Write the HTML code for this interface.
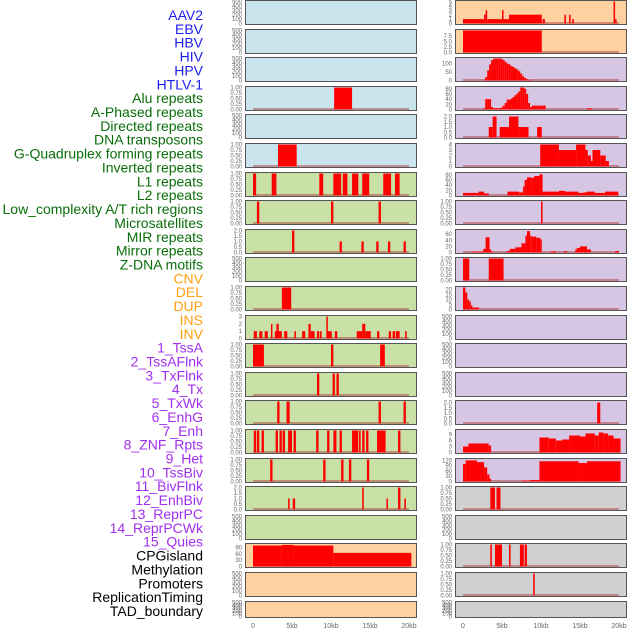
<!DOCTYPE html>
<html><head><meta charset="utf-8"><style>
body{margin:0;background:#fff;width:630px;height:630px;overflow:hidden}
svg{display:block}
</style></head><body>
<svg id="chart" width="630" height="630" xmlns="http://www.w3.org/2000/svg"></svg>
<script>
// ---------- labels ----------
const trackLabels = ["AAV2","EBV","HBV","HIV","HPV","HTLV-1","Alu repeats","A-Phased repeats","Directed repeats","DNA transposons","G-Quadruplex forming repeats","Inverted repeats","L1 repeats","L2 repeats","Low_complexity A/T rich regions","Microsatellites","MIR repeats","Mirror repeats","Z-DNA motifs","CNV","DEL","DUP","INS","INV","1_TssA","2_TssAFlnk","3_TxFlnk","4_Tx","5_TxWk","6_EnhG","7_Enh","8_ZNF_Rpts","9_Het","10_TssBiv","11_BivFlnk","12_EnhBiv","13_ReprPC","14_ReprPCWk","15_Quies","CPGisland","Methylation","Promoters","ReplicationTiming","TAD_boundary"];
const labelGroupSizes = [6,13,5,15,5];
const labelColors = ["#1c1cf0","#0a6e0a","#ffa010","#a030ee","#000000"];
const xTickValues = [0,5,10,15,20];
const xTickLabels = ["0","5kb","10kb","15kb","20kb"];

// ---------- tick sets ----------
const tEmpty = [0,100,200,300,400,500];
const tEmptyL = ["0","100","200","300","400","500"];
const tUnit = [0,0.25,0.5,0.75,1];
const tUnitL = ["0.00","0.25","0.50","0.75","1.00"];
const tTwo = [0,0.5,1,1.5,2];
const tTwoL = ["0.0","0.5","1.0","1.5","2.0"];

// ---------- left column data [startKb, endKb, value] ----------
const L_alu = [[10.4,12.7,1]];
const L_gquad = [[3.2,5.6,1]];
const L_l1 = [[0,0.4,1],[2.4,3.0,1],[8.5,9.0,1],[10.3,11.3,1],[11.5,12.1,1],[12.7,13.5,1],[14.0,14.9,1],[16.7,17.7,1],[18.2,18.8,1]];
const L_lowc = [[0.5,0.8,1],[10.0,10.3,1],[16.1,16.4,1]];
const L_mir = [[5.0,5.3,2],[11.1,11.4,1],[13.9,14.2,1],[15.8,16.1,1],[17.3,17.6,1],[19.3,19.6,1]];
const L_zdna = [[3.7,4.9,1]];
const L_ins = [[0.1,0.5,1],[0.8,1.2,1],[1.5,1.9,1],[2.3,2.4,2],[2.8,3.7,1],[3.0,3.3,2],[4.0,4.4,1],[5.3,5.5,1],[6.3,6.7,1],[7.1,7.4,2],[7.4,7.9,1],[8.2,8.5,1],[8.6,8.8,1],[9.4,9.5,3],[9.5,10.1,1],[10.5,10.8,1],[13.3,14.0,1],[14.0,14.4,2],[14.4,15.1,1],[15.9,16.2,1],[17.4,17.7,1],[17.9,18.2,1],[18.3,18.8,1],[19.5,19.7,1]];
const L_tssa = [[0,1.4,1],[10.0,10.3,1],[16.3,16.9,1]];
const L_tssaf = [[8.2,8.5,1],[10.2,10.5,1],[10.7,11.0,1]];
const L_txf = [[3.1,3.4,1],[4.3,4.7,1],[16.1,16.4,1],[19.3,19.6,1]];
const L_tx = [[0.1,0.4,1],[0.5,0.8,1],[1.1,1.4,1],[2.9,3.2,1],[3.4,3.7,1],[3.8,4.1,1],[4.5,5.0,1],[5.2,5.5,1],[8.1,8.4,1],[9.5,9.8,1],[10.3,10.7,1],[11.1,11.4,1],[12.7,13.5,1],[13.6,13.8,1],[14.0,14.3,1],[14.5,14.8,1],[15.9,17.0,1],[18.6,18.9,1]];
const L_txwk = [[2.2,2.5,1],[9.0,9.3,1],[11.3,11.6,1],[12.3,12.6,1],[14.6,14.9,1]];
const L_enhg = [[4.5,4.7,1],[5.1,5.4,1],[14.0,14.2,2],[17.1,17.3,1],[18.6,18.9,2],[19.4,19.6,1]];
const L_cpg = [[0,3.7,100],[3.7,5.2,103],[5.2,10.3,100],[10.3,20.3,65]];

// ---------- right column data ----------
const R_aav2 = [[0,2.7,1],[2.7,2.9,2],[2.9,3.1,3],[3.1,5.0,1],[5.0,5.2,3],[5.2,5.9,1],[5.9,10.1,2],[10.2,10.5,1],[13.0,13.2,2],[13.6,13.8,2],[14.0,14.2,1],[19.3,19.5,5],[19.5,19.6,1]];
const R_ebv = [[0,10.1,10]];
const R_hiv_bins = [5,20,60,95,120,128,130,130,130,128,120,110,100,95,85,80,72,65,55,40,25,15,8,4,2];
const R_hiv_start = 2.6;
const R_alu_bins = [5,40,40,40,10,5,5,5,5,8,15,25,38,38,42,48,55,62,70,85,85,80,60,25,10,15,15,15,15,15,15,15];
const R_alu_start = 2.6;
const R_alu_extra = [[15.9,16.5,5]];
const R_direct = [[3.3,3.8,1],[3.8,4.3,2],[4.7,5.9,1],[5.9,7.1,2],[7.1,8.4,1],[9.5,10.1,1]];
const R_gquad = [[9.9,12.3,4],[12.3,14.5,3],[14.5,15.7,4],[15.7,16.0,3],[16.0,16.4,2],[16.4,16.6,1],[16.6,17.6,3],[17.6,18.3,2],[18.3,18.7,1]];
const R_inv = [[0,2.0,10],[2.0,2.7,15],[2.7,3.3,8],[5.7,7.2,15],[7.2,7.6,12],[7.6,7.7,15],[7.7,7.9,35],[7.9,8.2,60],[8.2,8.8,70],[8.8,9.1,68],[9.1,9.8,75],[9.8,10.2,82],[10.2,12.3,15],[12.3,13.1,18],[13.1,14.8,15],[14.8,15.4,10],[15.4,15.9,12],[15.9,16.9,15],[16.9,18.2,10],[18.2,19.9,15]];
const R_l2 = [[10.0,10.2,1]];
const R_mir = [[1.1,2.6,3],[2.6,2.9,12],[2.9,3.4,50],[3.4,3.6,10],[3.6,3.9,3],[5.6,6.0,5],[6.0,6.7,12],[6.7,7.5,17],[7.5,8.0,30],[8.0,8.2,55],[8.2,8.6,70],[8.6,8.8,55],[8.8,9.4,52],[9.4,9.9,48],[9.9,10.1,43],[11.2,12.0,3],[11.6,11.8,5],[13.0,13.3,5],[14.4,14.6,10],[14.6,15.0,15],[15.0,15.9,20],[15.9,16.4,10],[19.5,20.0,5]];
const R_mirror = [[0,0.8,1],[3.3,5.2,1]];
const R_zdna = [[0,0.3,22],[0.3,0.55,17],[0.55,0.8,10],[0.8,1.0,8],[1.0,1.2,4],[1.2,2.05,2]];
const R_tx = [[17.2,17.6,2]];
const R_enh = [[0,0.7,3],[0.7,3.3,4.5],[3.3,3.6,3.5],[9.8,11.0,7.5],[11.0,11.9,7],[11.9,12.7,6],[12.7,13.6,6.5],[13.6,15.0,8.5],[15.0,15.7,8],[15.7,16.9,9.5],[16.9,17.4,8.5],[17.4,18.0,10],[18.0,18.6,9.5],[18.6,19.3,8.5],[19.3,20.2,7]];
const R_znf = [[0,0.35,100],[0.35,1.8,120],[1.8,2.7,110],[2.7,3.1,80],[3.1,3.4,40],[3.4,3.6,15],[7.5,8.6,5],[8.6,9.8,8],[9.8,14.8,115],[14.8,15.9,105],[15.9,20.2,115]];
const R_tssbiv = [[3.5,4.1,1],[4.3,4.8,1]];
const R_cpg2 = [[3.5,3.7,1],[4.1,5.0,1],[5.9,6.1,1],[7.3,7.8,1],[7.9,8.2,1]];
const R_meth = [[9.0,9.2,1]];

// ---------- rendering ----------
const svg = document.getElementById('chart');
const NS = 'http://www.w3.org/2000/svg';
function mk(tag, attrs, parent){ const e=document.createElementNS(NS,tag); for(const k in attrs) e.setAttribute(k,attrs[k]); (parent||svg).appendChild(e); return e; }

// labels
let li=0;
labelGroupSizes.forEach((n,g)=>{ for(let j=0;j<n;j++){ const t=mk('text',{x:203,y:15+li*13.86+5,'text-anchor':'end','font-family':'Liberation Sans, sans-serif','font-size':'14',fill:labelColors[g]}); t.textContent=trackLabels[li];


li++; }});

const BG = {blue:'#c9e4ec',green:'#c9e1a6',orange:'#ffd1a0',purple:'#d7c6e3',gray:'#d0d0d0'};
function binsToSegs(bins,start,w){ return bins.map((v,i)=>[start+i*w,start+(i+1)*w,v]); }

const leftPanels = [
 ['blue',tEmpty,tEmptyL,500,null],['blue',tEmpty,tEmptyL,500,null],['blue',tEmpty,tEmptyL,500,null],
 ['blue',tUnit,tUnitL,1,L_alu],['blue',tEmpty,tEmptyL,500,null],['blue',tUnit,tUnitL,1,L_gquad],
 ['green',tUnit,tUnitL,1,L_l1],['green',tUnit,tUnitL,1,L_lowc],['green',tTwo,tTwoL,2,L_mir],
 ['green',tEmpty,tEmptyL,500,null],['green',tUnit,tUnitL,1,L_zdna],['green',[0,1,2,3],["0","1","2","3"],3,L_ins],
 ['green',tUnit,tUnitL,1,L_tssa],['green',tUnit,tUnitL,1,L_tssaf],['green',tUnit,tUnitL,1,L_txf],
 ['green',tUnit,tUnitL,1,L_tx],['green',tUnit,tUnitL,1,L_txwk],['green',tTwo,tTwoL,2,L_enhg],
 ['green',tEmpty,tEmptyL,500,null],['orange',[0,30,60,90],["0","30","60","90"],105,L_cpg],
 ['orange',tEmpty,tEmptyL,500,null],['orange',tEmpty,tEmptyL,500,null]
];
const rightPanels = [
 ['orange',[0,1,2,3,4,5],["0","1","2","3","4","5"],5,R_aav2],['orange',[0,2.5,5,7.5],["0.0","2.5","5.0","7.5"],10,R_ebv],
 ['purple',[0,50,100],["0","50","100"],130,binsToSegs(R_hiv_bins,R_hiv_start,0.25)],
 ['purple',[0,20,40,60,80],["0","20","40","60","80"],85,binsToSegs(R_alu_bins,R_alu_start,0.25).concat(R_alu_extra)],
 ['purple',tTwo,tTwoL,2.1,R_direct],['purple',[0,1,2,3,4],["0","1","2","3","4"],4,R_gquad],
 ['purple',[0,20,40,60,80],["0","20","40","60","80"],85,R_inv],['purple',tUnit,tUnitL,1,R_l2],
 ['purple',[0,20,40,60],["0","20","40","60"],72,R_mir],['purple',tUnit,tUnitL,1,R_mirror],
 ['purple',[0,5,10,15,20],["0","5","10","15","20"],22,R_zdna],
 ['purple',tEmpty,tEmptyL,500,null],['purple',tEmpty,tEmptyL,500,null],['purple',tEmpty,tEmptyL,500,null],
 ['purple',tTwo,tTwoL,2.1,R_tx],['purple',[0,3,6,9],["0","3","6","9"],11,R_enh],
 ['purple',[0,30,60,90,120],["0","30","60","90","120"],125,R_znf],['gray',tUnit,tUnitL,1,R_tssbiv],
 ['gray',tEmpty,tEmptyL,500,null],['gray',tUnit,tUnitL,1,R_cpg2],['gray',tUnit,tUnitL,1,R_meth],['gray',tEmpty,tEmptyL,500,null]
];

function drawPanel(p,row,col){
  const [bg,ticks,tickL,ymax,data]=p;
  const left = col===0?245:455, w=171;
  const top = row===0?0:Math.round(row*28.6);
  const h = row===21?16:24;
  const g = mk('g',{});
  
  
  mk('rect',{x:left+0.5,y:top+0.5,width:w,height:h,fill:BG[bg],stroke:'#555','stroke-width':1},g);
  const y0 = top+h-0.5, y1 = top+1.5;
  const ys = v => y0-(v/ymax)*(y0-y1);
  const x0k = col===0?253:463;
  const xs = k => x0k+k*7.8;
  ticks.forEach((t,i)=>{ const tt=mk('text',{x:left-3,y:ys(t)+2,'text-anchor':'end','font-family':'Liberation Sans, sans-serif','font-size':'6',fill:'#666'},g); tt.textContent=tickL[i];
   
    });
  if(data){
    mk('line',{x1:xs(0),x2:xs(20),y1:y0-0.5,y2:y0-0.5,stroke:'#b04040','stroke-width':1.2,opacity:0.8},g);
    data.forEach(d=>{ const r=mk('rect',{x:xs(d[0]),y:ys(d[2]),width:Math.max(1.5,xs(d[1])-xs(d[0])),height:y0-ys(d[2]),fill:'#ff0000'},g);
      
       });
  }
}
leftPanels.forEach((p,i)=>drawPanel(p,i,0));
rightPanels.forEach((p,i)=>drawPanel(p,i,1));

// x axes
[253,463].forEach((x0k,c)=>{ xTickValues.forEach((v,i)=>{ const t=mk('text',{x:x0k+v*7.8,y:628,'text-anchor':'middle','font-family':'Liberation Sans, sans-serif','font-size':'7',fill:'#666'}); t.textContent=xTickLabels[i];
 
  }); });
</script>
</body></html>
